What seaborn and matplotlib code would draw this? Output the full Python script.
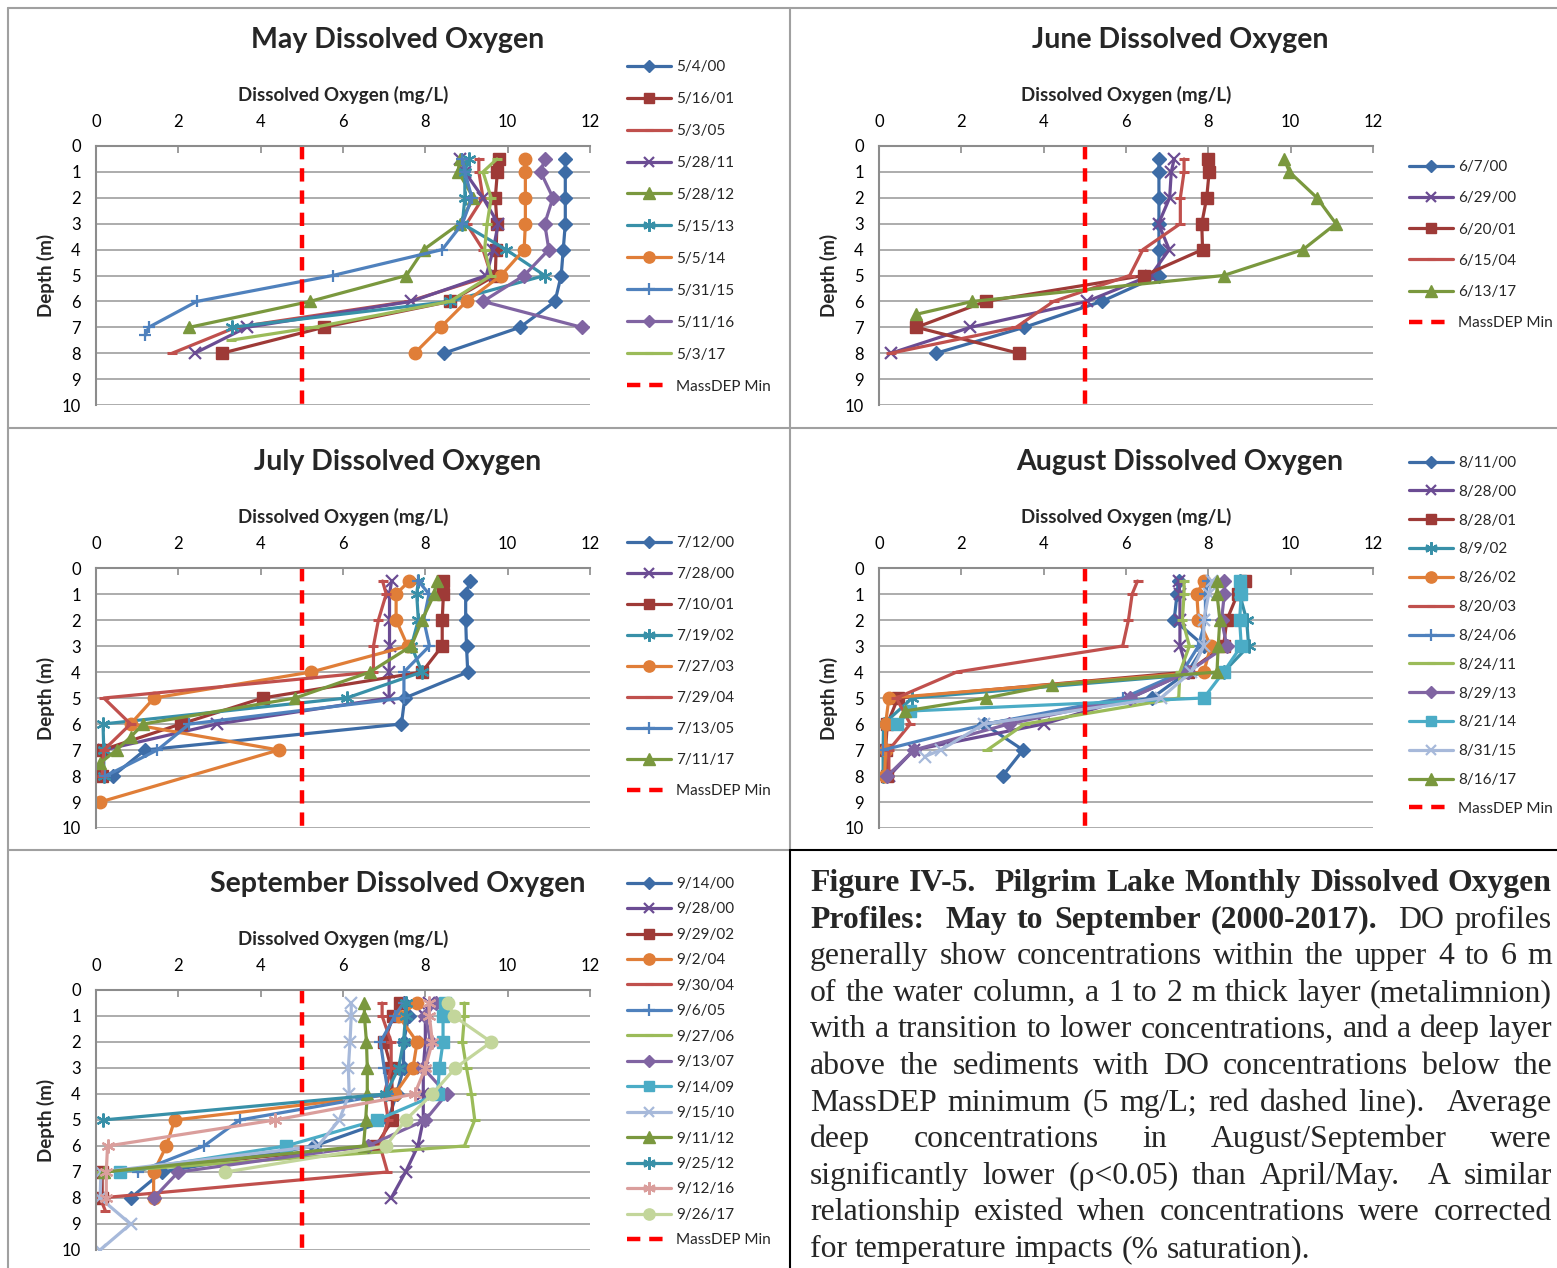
import matplotlib
matplotlib.use('Agg')
import matplotlib.pyplot as plt
from matplotlib.lines import Line2D
import seaborn as sns

W, H = 1557, 1268

# ---------------- data (depth in m, dissolved oxygen in mg/L) ----------------
do_ticks = [0, 2, 4, 6, 8, 10, 12]
depth_ticks = list(range(0, 11))
massdep_min = 5
massdep_depth = [0, 10]

may_dates = ['5/4/00', '5/16/01', '5/3/05', '5/28/11', '5/28/12', '5/15/13',
             '5/5/14', '5/31/15', '5/11/16', '5/3/17']
may_depth = [
    [0.5, 1, 2, 3, 4, 5, 6, 7, 8],
    [0.5, 1, 2, 3, 4, 5, 6, 7, 8],
    [0.5, 1, 2, 3, 4, 5, 6, 7, 8],
    [0.5, 1, 2, 3, 4, 5, 6, 7, 8],
    [0.5, 1, 2, 3, 4, 5, 6, 7],
    [0.5, 1, 2, 3, 4, 5, 6, 7],
    [0.5, 1, 2, 3, 4, 5, 6, 7, 8],
    [0.5, 1, 2, 3, 4, 5, 6, 7, 7.3],
    [0.5, 1, 2, 3, 4, 5, 6, 7],
    [0.5, 1, 2, 3, 4, 5, 6, 7, 7.5],
]
may_do = [
    [11.4, 11.4, 11.4, 11.4, 11.35, 11.3, 11.15, 10.3, 8.45],
    [9.78, 9.75, 9.7, 9.74, 9.72, 9.7, 8.6, 5.53, 3.06],
    [9.3, 9.3, 9.4, 9.0, 9.4, 9.6, 7.6, 3.4, 1.85],
    [8.85, 8.96, 9.4, 9.77, 9.65, 9.48, 7.66, 3.66, 2.4],
    [8.83, 8.8, 9.17, 8.83, 7.96, 7.54, 5.2, 2.27],
    [9.05, 8.96, 8.96, 8.9, 9.96, 10.9, 8.6, 3.3],
    [10.43, 10.43, 10.43, 10.43, 10.4, 9.84, 9.0, 8.37, 7.74],
    [8.9, 8.96, 9.13, 8.9, 8.41, 5.75, 2.45, 1.28, 1.2],
    [10.9, 10.8, 11.1, 10.9, 11.0, 10.4, 9.4, 11.8],
    [9.74, 9.4, 9.6, 9.5, 9.44, 9.6, 8.6, 5.3, 3.27],
]

jun_dates = ['6/7/00', '6/29/00', '6/20/01', '6/15/04', '6/13/17']
jun_depth = [
    [0.5, 1, 2, 3, 4, 5, 6, 7, 8],
    [0.5, 1, 2, 3, 4, 5, 6, 7, 8],
    [0.5, 1, 2, 3, 4, 5, 6, 7, 8],
    [0.5, 1, 2, 3, 4, 5, 6, 7, 8],
    [0.5, 1, 2, 3, 4, 5, 6, 6.5],
]
jun_do = [
    [6.8, 6.8, 6.8, 6.8, 6.8, 6.8, 5.41, 3.53, 1.39],
    [7.17, 7.1, 7.06, 6.79, 7.05, 6.6, 5.05, 2.22, 0.29],
    [7.98, 8.02, 7.96, 7.84, 7.86, 6.44, 2.59, 0.91, 3.39],
    [7.41, 7.41, 7.32, 7.32, 6.41, 6.09, 4.24, 3.33, 0.29],
    [9.84, 9.97, 10.64, 11.1, 10.3, 8.37, 2.27, 0.9],
]

jul_dates = ['7/12/00', '7/28/00', '7/10/01', '7/19/02', '7/27/03', '7/29/04',
             '7/13/05', '7/11/17']
jul_depth = [
    [0.5, 1, 2, 3, 4, 5, 6, 7, 8],
    [0.5, 1, 2, 3, 4, 5, 6, 7, 8],
    [0.5, 1, 2, 3, 4, 5, 6, 7, 8],
    [0.5, 1, 2, 3, 4, 5, 6, 7, 8],
    [0.5, 1, 2, 3, 4, 5, 6, 7, 9],
    [0.5, 1, 2, 3, 4, 5, 6, 7, 8],
    [0.5, 1, 2, 3, 4, 5, 6, 7, 8],
    [0.5, 1, 2, 3, 4, 5, 6, 6.5, 7, 7.5],
]
jul_do = [
    [9.09, 8.98, 8.98, 9.0, 9.03, 7.5, 7.42, 1.19, 0.41],
    [7.18, 7.13, 7.13, 7.13, 7.12, 7.12, 2.93, 0.19, 0.1],
    [8.44, 8.44, 8.41, 8.41, 7.92, 4.05, 2.06, 0.15, 0.15],
    [7.83, 7.79, 7.83, 7.66, 7.92, 6.09, 0.17, 0.19, 0.19],
    [7.61, 7.29, 7.29, 7.57, 5.23, 1.41, 0.84, 4.44, 0.1],
    [6.96, 7.05, 6.86, 6.74, 6.74, 0.19, 0.84, 0.19, 0.15],
    [7.83, 8.09, 7.96, 8.1, 7.48, 7.48, 2.27, 1.49, 0.23],
    [8.28, 8.22, 7.92, 7.66, 6.66, 4.84, 1.15, 0.84, 0.5, 0.1],
]

aug_dates = ['8/11/00', '8/28/00', '8/28/01', '8/9/02', '8/26/02', '8/20/03',
             '8/24/06', '8/24/11', '8/29/13', '8/21/14', '8/31/15', '8/16/17']
aug_depth = [
    [0.5, 1, 2, 3, 4, 5, 6, 7, 8],
    [0.5, 1, 2, 3, 4, 5, 6, 7, 8],
    [0.5, 1, 2, 3, 4, 5, 6, 7, 8],
    [0.5, 1, 2, 3, 4, 5, 6, 7, 8],
    [0.5, 1, 2, 3, 4, 5, 6, 7, 8],
    [0.5, 1, 2, 3, 4, 5, 6, 7, 8],
    [0.5, 1, 2, 3, 4, 5, 6, 7],
    [0.5, 1, 2, 3, 4, 5, 6, 7],
    [0.5, 1, 2, 3, 4, 5, 6, 7, 8],
    [0.5, 1, 2, 3, 4, 5, 5.5, 6],
    [0.5, 1, 2, 3, 4, 5, 6, 7, 7.25],
    [0.5, 1, 2, 3, 4, 4.5, 5, 5.5],
]
aug_do = [
    [7.28, 7.24, 7.17, 7.9, 7.5, 6.63, 2.55, 3.5, 3.0],
    [7.28, 7.31, 7.31, 7.31, 7.5, 6.1, 4.0, 0.85, 0.24],
    [8.89, 8.71, 8.45, 8.37, 7.5, 0.46, 0.2, 0.16, 0.2],
    [8.76, 8.76, 8.93, 8.98, 8.37, 0.81, 0.11, 0.1, 0.1],
    [7.89, 7.72, 7.76, 8.06, 7.89, 0.24, 0.16, 0.16, 0.14],
    [6.28, 6.15, 6.06, 5.92, 1.89, 0.42, 0.76, 0.24, 0.24],
    [8.0, 7.93, 7.93, 7.76, 7.37, 5.93, 2.6, 0.1],
    [7.41, 7.41, 7.37, 7.54, 7.31, 7.28, 3.54, 2.63],
    [8.39, 8.39, 8.32, 8.45, 7.5, 6.1, 3.15, 0.85, 0.2],
    [8.76, 8.8, 8.76, 8.8, 8.37, 7.89, 0.76, 0.44],
    [8.1, 8.01, 7.89, 7.89, 7.58, 6.85, 2.55, 1.5, 1.11],
    [8.21, 8.21, 8.28, 8.24, 8.21, 4.21, 2.6, 0.63],
]

sep_dates = ['9/14/00', '9/28/00', '9/29/02', '9/2/04', '9/30/04', '9/6/05',
             '9/27/06', '9/13/07', '9/14/09', '9/15/10', '9/11/12', '9/25/12',
             '9/12/16', '9/26/17']
sep_depth = [
    [0.5, 1, 2, 3, 4, 5, 6, 7, 8],
    [0.5, 1, 2, 3, 4, 5, 6, 7, 8],
    [0.5, 1, 2, 3, 4, 5, 6, 7, 8],
    [0.5, 1, 2, 3, 4, 5, 6, 7, 8],
    [0.5, 1, 2, 3, 4, 5, 6, 7, 8, 8.5],
    [0.5, 1, 2, 3, 4, 5, 6, 7],
    [0.5, 1, 2, 3, 4, 5, 6, 7],
    [0.5, 1, 2, 3, 4, 5, 6, 7, 8],
    [0.5, 1, 2, 3, 4, 5, 6, 7],
    [0.5, 1, 2, 3, 4, 5, 6, 7, 8, 9, 10],
    [0.5, 1, 2, 3, 4, 5, 6, 7],
    [0.5, 1, 2, 3, 4, 5],
    [0.5, 1, 2, 3, 4, 5, 6, 7, 8],
    [0.5, 1, 2, 3, 4, 5, 6, 7],
]
sep_do = [
    [7.47, 7.6, 7.47, 7.47, 7.3, 7.1, 5.3, 1.6, 0.84],
    [8.08, 8.0, 8.0, 7.95, 7.95, 7.95, 7.82, 7.52, 7.17],
    [7.39, 7.22, 7.0, 7.17, 7.2, 7.2, 6.8, 0.15, 0.15],
    [7.8, 7.35, 7.8, 7.7, 7.26, 1.91, 1.71, 1.4, 1.4],
    [6.95, 6.95, 7.17, 7.17, 7.0, 7.1, 6.9, 7.08, 0.1, 0.23],
    [7.47, 7.26, 6.91, 7.0, 7.1, 3.49, 2.62, 1.01],
    [8.95, 8.95, 8.9, 9.0, 9.12, 9.2, 8.95, 0.1],
    [8.26, 8.0, 8.13, 7.95, 8.52, 8.0, 6.6, 2.0, 1.4],
    [8.47, 8.43, 8.43, 8.34, 8.3, 6.83, 4.61, 0.58],
    [6.2, 6.2, 6.17, 6.13, 6.15, 5.91, 5.39, 0.12, 0.1, 0.84, 0.1],
    [6.52, 6.52, 6.57, 6.59, 6.59, 6.55, 6.5, 0.2],
    [7.52, 7.52, 7.47, 7.35, 7.04, 0.17],
    [8.08, 8.1, 8.17, 8.0, 7.74, 4.35, 0.28, 0.25, 0.25],
    [8.56, 8.69, 9.6, 8.73, 8.17, 7.52, 7.04, 3.14],
]

# ---------------- styles ----------------
DKBLUE = '#3D6CA6'
DKRED = '#9E3A37'
RED = '#C0504D'
PURPLE = '#6B4C93'
GREEN = '#7A983E'
TEAL = '#3890A8'
ORANGE = '#E07E38'
BLUE = '#4F81BD'
LPURPLE = '#8064A2'
LGREEN = '#9BBB59'
CYAN = '#4BACC6'
LBLUE = '#A7B9DA'
PINK = '#DA9E9C'
SAGE = '#C3D69B'
STAR = (6, 2, 0)

may_styles = [(DKBLUE, 'D'), (DKRED, 's'), (RED, '_'), (PURPLE, 'x'), (GREEN, '^'),
              (TEAL, STAR), (ORANGE, 'o'), (BLUE, '+'), (LPURPLE, 'D'), (LGREEN, '_')]
jun_styles = [(DKBLUE, 'D'), (PURPLE, 'x'), (DKRED, 's'), (RED, '_'), (GREEN, '^')]
jul_styles = [(DKBLUE, 'D'), (PURPLE, 'x'), (DKRED, 's'), (TEAL, STAR), (ORANGE, 'o'),
              (RED, '_'), (BLUE, '+'), (GREEN, '^')]
aug_styles = [(DKBLUE, 'D'), (PURPLE, 'x'), (DKRED, 's'), (TEAL, STAR), (ORANGE, 'o'),
              (RED, '_'), (BLUE, '+'), (LGREEN, '_'), (LPURPLE, 'D'), (CYAN, 's'),
              (LBLUE, 'x'), (GREEN, '^')]
sep_styles = [(DKBLUE, 'D'), (PURPLE, 'x'), (DKRED, 's'), (ORANGE, 'o'), (RED, '_'),
              (BLUE, '+'), (LGREEN, '_'), (LPURPLE, 'D'), (CYAN, 's'), (LBLUE, 'x'),
              (GREEN, '^'), (TEAL, STAR), (PINK, STAR), (SAGE, 'o')]

MSIZE = {'D': 7, 's': 8, '_': 7, 'x': 8, '^': 9, 'o': 9, '+': 9}

sns.set_style('white')
plt.rcParams['font.family'] = ['Lato', 'DejaVu Sans']

fig = plt.figure(figsize=(W / 100, H / 100), dpi=100)


def draw_panel(box, title, title_xy, dates, depths, dos, styles, leg_xy, leg_space):
    x0, y0, x1, y1 = box
    ax = fig.add_axes([x0 / W, 1 - y1 / H, (x1 - x0) / W, (y1 - y0) / H])
    for date, d, v, (c, m) in zip(dates, depths, dos, styles):
        ms = MSIZE.get(m, 10)
        mew = 1.6 if m in ('x', '+', STAR) else (2.2 if m == '_' else 1)
        sns.lineplot(x=v, y=d, sort=False, estimator=None, color=c, lw=2.3,
                     marker=m, markersize=ms, markeredgecolor=c, markerfacecolor=c,
                     markeredgewidth=mew, label=date, ax=ax)
    sns.lineplot(x=[massdep_min] * len(massdep_depth), y=massdep_depth, sort=False,
                 estimator=None, color='#FF0000', lw=3.2, linestyle=(0, (3, 2)),
                 label='MassDEP Min', ax=ax)
    ax.set_xlim(0, 12)
    ax.set_ylim(10, 0)
    ax.set_xticks(do_ticks)
    ax.set_yticks(depth_ticks)
    ax.xaxis.tick_top()
    ax.xaxis.set_label_position('top')
    ax.tick_params(axis='x', direction='in', length=5, width=1.2, pad=11.5,
                   color='#8C8C8C', labelcolor='black', labelsize=12)
    ax.tick_params(axis='y', direction='out', length=4, width=1.2, pad=7,
                   color='#8C8C8C', labelcolor='black', labelsize=12)
    ax.grid(axis='y', color='#A6A6A6', lw=1.3)
    ax.grid(axis='x', visible=False)
    ax.set_axisbelow(True)
    for s in ('right', 'bottom'):
        ax.spines[s].set_visible(False)
    for s in ('left', 'top'):
        ax.spines[s].set_color('#8C8C8C')
        ax.spines[s].set_linewidth(1.5)
    ax.set_xlabel('Dissolved Oxygen (mg/L)', fontsize=13.5, fontweight='bold',
                  labelpad=9.5)
    ax.set_ylabel('Depth (m)', fontsize=13.5, fontweight='bold', labelpad=5)
    fig.text(title_xy[0] / W, 1 - title_xy[1] / H, title, fontsize=20.5,
             fontweight='bold', ha='center', va='center')
    ax.legend(loc='upper left', bbox_to_anchor=(leg_xy[0] / W, 1 - leg_xy[1] / H),
              bbox_transform=fig.transFigure, frameon=False, fontsize=11,
              labelspacing=leg_space, handlelength=2.9, handletextpad=0.3,
              borderpad=0, borderaxespad=0, markerscale=0.9)
    return ax


draw_panel((96, 146, 590, 405), 'May Dissolved Oxygen', (398, 40),
           may_dates, may_depth, may_do, may_styles, (627, 60), 1.175)
draw_panel((879, 146, 1373, 405), 'June Dissolved Oxygen', (1180, 40),
           jun_dates, jun_depth, jun_do, jun_styles, (1409, 160), 1.13)
draw_panel((96, 568, 590, 828), 'July Dissolved Oxygen', (398, 462),
           jul_dates, jul_depth, jul_do, jul_styles, (627, 536), 1.116)
draw_panel((879, 568, 1373, 828), 'August Dissolved Oxygen', (1180, 462),
           aug_dates, aug_depth, aug_do, aug_styles, (1409, 456), 0.97)
draw_panel((96, 990, 590, 1250), 'September Dissolved Oxygen', (398, 884),
           sep_dates, sep_depth, sep_do, sep_styles, (627, 877), 0.75)


# panel borders
def hline(y, xa, xb, c='#A0A0A0', lw=1.5):
    fig.add_artist(Line2D([xa / W, xb / W], [1 - y / H, 1 - y / H], color=c, lw=lw,
                          transform=fig.transFigure))


def vline(x, ya, yb, c='#A0A0A0', lw=1.5):
    fig.add_artist(Line2D([x / W, x / W], [1 - ya / H, 1 - yb / H], color=c, lw=lw,
                          transform=fig.transFigure))


hline(8, 8, 1557)
hline(428, 8, 1557)
hline(850, 8, 790)
vline(8, 8, 1268)
vline(790, 8, 850)
hline(850, 790, 1557, c='black', lw=1.5)
vline(790, 850, 1268, c='black', lw=1.5)

# ---------------- caption (justified) ----------------
caption = [
    [("Figure IV-5.  Pilgrim Lake Monthly Dissolved Oxygen", 'bold')],
    [("Profiles:  May to September (2000-2017).", 'bold'), ("  DO profiles", 'normal')],
    [("generally show concentrations within the upper 4 to 6 m", 'normal')],
    [("of the water column, a 1 to 2 m thick layer (metalimnion)", 'normal')],
    [("with a transition to lower concentrations, and a deep layer", 'normal')],
    [("above the sediments with DO concentrations below the", 'normal')],
    [("MassDEP minimum (5 mg/L; red dashed line).  Average", 'normal')],
    [("deep concentrations in August/September were", 'normal')],
    [("significantly lower (\u03c1<0.05) than April/May.  A similar", 'normal')],
    [("relationship existed when concentrations were corrected", 'normal')],
    [("for temperature impacts (% saturation).", 'normal')],
]


def tokenize(segments):
    toks = []
    pending = 0
    for text, weight in segments:
        for i, p in enumerate(text.split(' ')):
            if i > 0:
                pending += 1
            if p == '':
                continue
            toks.append([p, weight, pending if toks else 0])
            pending = 0
    return toks


cap_x0, cap_x1 = 810, 1552
base0, pitch = 891, 36.6
renderer = fig.canvas.get_renderer()
lines = []
for li, segs in enumerate(caption):
    toks = tokenize(segs)
    txts = [fig.text(0, 0, w, fontsize=23, fontweight=wt,
                     family=['Liberation Serif', 'DejaVu Serif'], va='baseline')
            for w, wt, g in toks]
    lines.append((toks, txts))


def natural_width(fs):
    mx = 0
    for toks, txts in lines:
        tot = 0
        for (w, wt, g), t in zip(toks, txts):
            t.set_fontsize(fs)
            tot += t.get_window_extent(renderer).width + g * fs * 1.389 * 0.25
        mx = max(mx, tot)
    return mx


fs = 23
nw = natural_width(fs)
if nw > (cap_x1 - cap_x0) - 6:
    fs = fs * ((cap_x1 - cap_x0) - 6) / nw
natural_width(fs)
space_px = fs * 1.389 * 0.25
for li, (toks, txts) in enumerate(lines):
    widths = [t.get_window_extent(renderer).width for t in txts]
    gsum = sum(g for w, wt, g in toks)
    if li < len(lines) - 1:
        unit = (cap_x1 - cap_x0 - sum(widths)) / gsum
    else:
        unit = space_px
    x = cap_x0
    y = base0 + li * pitch
    for (w, wt, g), t, wd in zip(toks, txts, widths):
        x += g * unit
        t.set_position((x / W, 1 - y / H))
        x += wd

fig.savefig('out.png', dpi=100)
